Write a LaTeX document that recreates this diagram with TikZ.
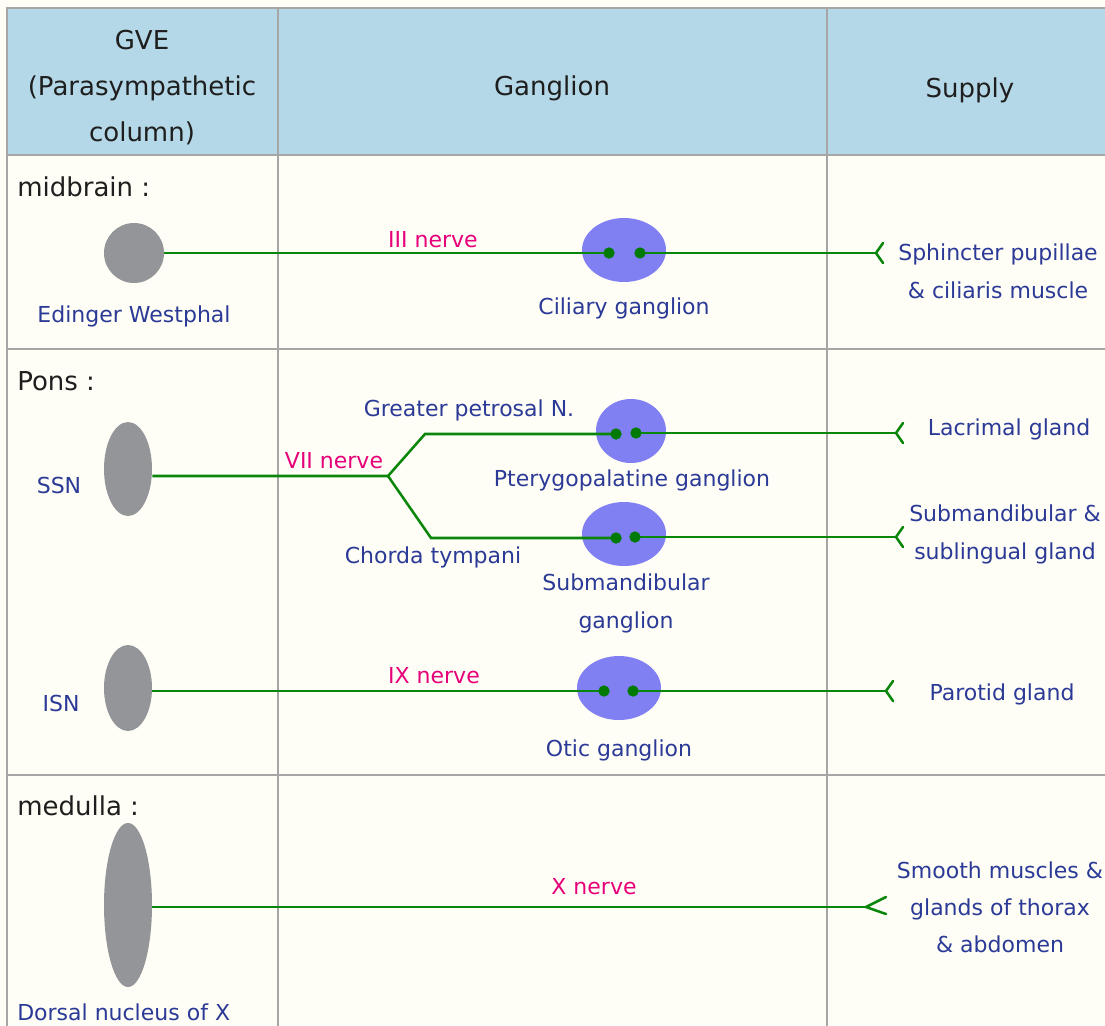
\documentclass[tikz,border=0pt]{standalone}
\usepackage{fontspec}
\setmainfont{DejaVu Sans}
\usetikzlibrary{shapes.geometric}
\definecolor{bgc}{HTML}{FFFEF6}
\definecolor{hdr}{HTML}{B4D8E7}
\definecolor{gridc}{HTML}{A6A6A6}
\definecolor{txtb}{HTML}{2B3A96}
\definecolor{txtk}{HTML}{1E1E1E}
\definecolor{pinkc}{HTML}{E6007A}
\definecolor{nerveg}{HTML}{0A860A}
\definecolor{dotg}{HTML}{007A00}
\definecolor{gang}{HTML}{8080F2}
\definecolor{nuc}{HTML}{949599}
\tikzset{
  gridline/.style={draw=gridc, line width=1.5pt},
  hdrtext/.style={text=txtk, font=\fontsize{19.5}{34.5}\selectfont, align=center, inner sep=0pt},
  rowtitle/.style={text=txtk, font=\fontsize{19.5}{22}\selectfont, anchor=west, inner sep=0pt},
  lbl/.style={text=txtb, font=\fontsize{16.5}{28.5}\selectfont, align=center, inner sep=0pt},
  nlbl/.style={text=pinkc, font=\fontsize{16.5}{18}\selectfont, inner sep=0pt},
  nucleus/.style={ellipse, fill=nuc, draw=none, inner sep=0pt},
  ganglionbox/.style={ellipse, fill=gang, draw=none, inner sep=0pt, minimum width=63pt, minimum height=48pt},
  syn/.style={circle, fill=dotg, draw=none, inner sep=0pt, minimum size=8.5pt},
  nerve/.style={draw=nerveg, line width=1.9pt, line join=miter},
  forkend/.style={draw=nerveg, line width=1.9pt, line join=round, line cap=round},
}
\begin{document}
\begin{tikzpicture}[x=0.75pt,y=-0.75pt]
\useasboundingbox (0,0) rectangle (1105,1025);
\clip (0,0) rectangle (1105,1025);
\fill[bgc] (0,0) rectangle (1105,1025);
\fill[hdr] (7,8) rectangle (1120,155);
% grid
\draw[gridline] (1120,8) -- (7,8) -- (7,1040);
\draw[gridline] (7,155) -- (1120,155);
\draw[gridline] (7,349) -- (1120,349);
\draw[gridline] (7,775) -- (1120,775);
\draw[gridline] (278,8) -- (278,1040);
\draw[gridline] (827,8) -- (827,1040);

% header
\node[hdrtext] (h1) at (142,88) {GVE\\(Parasympathetic\\column)};
\node[hdrtext] (h2) at (552,88) {Ganglion};
\node[hdrtext] (h3) at (970,90) {Supply};

% row titles
\node[rowtitle] (r1) at (17,187) {midbrain :};
\node[rowtitle] (r2) at (17,381) {Pons :};
\node[rowtitle] (r3) at (17,806) {medulla :};

% nuclei
\node[nucleus, minimum width=45pt, minimum height=45pt] (ew) at (134,253) {};
\node[nucleus, minimum width=36pt, minimum height=70.5pt] (ssn) at (128,469) {};
\node[nucleus, minimum width=36pt, minimum height=64.5pt] (isn) at (128,688) {};
\node[nucleus, minimum width=36pt, minimum height=123pt] (dnx) at (128,905) {};

\node[lbl] (lew) at (134,316) {Edinger Westphal};
\node[lbl] (lssn) at (59,485) {SSN};
\node[lbl] (lisn) at (61,703) {ISN};
\node[lbl, anchor=west] (ldnx) at (17,1012) {Dorsal nucleus of X};

% ganglia
\node[ganglionbox] (cil) at (624,250) {};
\node[ganglionbox, minimum width=52.5pt] (pter) at (631,431) {};
\node[ganglionbox] (subg) at (624,534) {};
\node[ganglionbox] (otic) at (619,688) {};

\node[lbl] (lcil) at (624,308) {Ciliary ganglion};
\node[lbl] (lpter) at (632,480) {Pterygopalatine ganglion};
\node[lbl] (lsubg) at (626,603) {Submandibular\\ganglion};
\node[lbl] (lotic) at (619,750) {Otic ganglion};

% synapse positions
\coordinate (c1) at (609,253); \coordinate (c2) at (640,253);
\coordinate (p1) at (616,434); \coordinate (p2) at (636,433);
\coordinate (s1) at (616,538); \coordinate (s2) at (635,537);
\coordinate (o1) at (604,691); \coordinate (o2) at (633,691);

% endings
\coordinate (f1) at (876,253);
\coordinate (f2) at (896,433);
\coordinate (f3) at (896,537);
\coordinate (f4) at (886,691);
\coordinate (f5) at (866,907);

% branch points
\coordinate (br) at (388,476);
\coordinate (bu) at (425,434);
\coordinate (bd) at (431,538);
\coordinate (xr) at (0,907);
\coordinate (ir) at (0,691);

% nerves
\draw[nerve] (ew.east) -- (c1);
\draw[nerve] (c2) -- (f1);
\draw[nerve] (ssn.east |- br) -- (br) -- (bu) -- (p1);
\draw[nerve] (br) -- (bd) -- (s1);
\draw[nerve] (p2) -- (f2);
\draw[nerve] (s2) -- (f3);
\draw[nerve] (isn.east |- ir) -- (o1);
\draw[nerve] (o2) -- (f4);
\draw[nerve] (dnx.east |- xr) -- (f5);

% fork endings
\draw[forkend] (f1) ++(7,-10) -- (f1) -- ++(7,10);
\draw[forkend] (f2) ++(7,-10) -- (f2) -- ++(7,10);
\draw[forkend] (f3) ++(7,-10) -- (f3) -- ++(7,10);
\draw[forkend] (f4) ++(7,-10) -- (f4) -- ++(7,10);
\draw[forkend] (f5) ++(20,-10) -- (f5) -- ++(20,7);

% synapse dots
\node[syn] (dc1) at (c1) {}; \node[syn] (dc2) at (c2) {};
\node[syn] (dp1) at (p1) {}; \node[syn] (dp2) at (p2) {};
\node[syn] (ds1) at (s1) {}; \node[syn] (ds2) at (s2) {};
\node[syn] (do1) at (o1) {}; \node[syn] (do2) at (o2) {};

% nerve labels
\node[nlbl] (n3) at (433,240) {III nerve};
\node[nlbl] (n7) at (334,461) {VII nerve};
\node[nlbl] (n9) at (434,676) {IX nerve};
\node[nlbl] (n10) at (594,887) {X nerve};

\node[lbl] (lgp) at (469,410) {Greater petrosal N.};
\node[lbl] (lct) at (433,557) {Chorda tympani};

% supply
\node[lbl] (t1) at (998,271) {Sphincter pupillae\\\& ciliaris muscle};
\node[lbl] (t2) at (1009,429) {Lacrimal gland};
\node[lbl] (t3) at (1005,534) {Submandibular \&\\sublingual gland};
\node[lbl] (t4) at (1002,694) {Parotid gland};
\node[lbl, font=\fontsize{16.5}{27.75}\selectfont] (t5) at (1000,907) {Smooth muscles \&\\glands of thorax\\\& abdomen};
\end{tikzpicture}
\end{document}
